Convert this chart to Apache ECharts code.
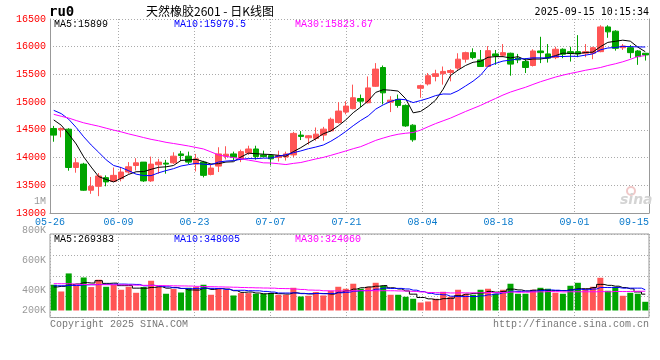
<!DOCTYPE html>
<html><head><meta charset="utf-8">
<script src="https://cdn.jsdelivr.net/npm/echarts@6/dist/echarts.min.js"></script>
<style>html,body{margin:0;padding:0;background:#fff}#c{width:660px;height:360px}</style>
</head><body><div id="c"></div>
<script>
const dates = ['05-26','05-27','05-28','05-29','05-30','06-03','06-04','06-05','06-06','06-09','06-10','06-11','06-12','06-13','06-16','06-17','06-18','06-19','06-20','06-23','06-24','06-25','06-26','06-27','06-30','07-01','07-02','07-03','07-04','07-07','07-08','07-09','07-10','07-11','07-14','07-15','07-16','07-17','07-18','07-21','07-22','07-23','07-24','07-25','07-28','07-29','07-30','07-31','08-01','08-04','08-05','08-06','08-07','08-08','08-11','08-12','08-13','08-14','08-15','08-18','08-19','08-20','08-21','08-22','08-25','08-26','08-27','08-28','08-29','09-01','09-02','09-03','09-04','09-05','09-08','09-09','09-10','09-11','09-12','09-15'];
const tickLabels = ['05-26','06-09','06-23','07-07','07-21','08-04','08-18','09-01','09-15'];
const volTickLabels = ['1M','800K','600K','400K','200K'];

const open = [14525,14500,14512,13821,13882,13411,13482,13638,13571,13620, 13739,13857,13918,13579,13870,13900,13905,14066,14025,13882, 13918,13696,13846,14025,14066,13977,14084,14155,14048,14036, 14000,14011,14048,14405,14357,14346,14405,14482,14632,14821, 14882,15066,14989,15286,15625,15000,15048,14941,14584,15250, 15329,15464,15512,15536,15614,15775,15893,15762,15643,15870, 15846,15882,15793,15732,15661,15923,15870,15804,15954,15911, 15911,15882,15882,15911,16357,16280,15982,15982,15923,15882];
const close = [14405,14525,13821,13905,13411,13482,13668,13561,13679,13739, 13834,13905,13579,13882,13918,13882,14025,14036,13918,13977, 13679,13811,14066,14061,14007,14107,14155,14018,14018,13977, 14036,14066,14436,14382,14393,14423,14513,14691,14839,14929, 15079,15018,15257,15596,15168,15036,14941,14571,14321,15298, 15477,15512,15554,15571,15775,15893,15804,15643,15929,15834, 15893,15686,15762,15625,15923,15893,15793,15954,15864,15882, 15870,15911,15982,16357,16268,15971,16012,15893,15821,15852];
const low = [14286,14365,13763,13727,13400,13346,13304,13482,13561,13571, 13709,13768,13561,13561,13709,13709,13882,13941,13882,13750, 13643,13679,13739,13966,13946,13918,14048,13964,14007,13857, 13929,13946,14007,14316,14232,14304,14304,14464,14614,14780, 14870,14911,14977,15275,14959,14821,14900,14554,14286,15079, 15300,15375,15316,15375,15584,15714,15775,15643,15632,15673, 15821,15477,15704,15525,15643,15704,15714,15775,15793,15732, 15811,15811,15775,15900,16161,15929,15941,15793,15673,15750];
const high = [14571,14545,14530,13989,13905,13650,13721,13679,13821,13829, 13918,13989,13918,14018,13977,13959,14096,14120,14107,14066, 13941,13870,14186,14204,14107,14143,14214,14214,14125,14061, 14125,14107,14464,14477,14405,14543,14554,14721,15000,15018, 15316,15137,15464,15704,15661,15107,15137,14959,14602,15316, 15525,15584,15643,15596,15882,15911,15971,15941,16012,15941, 16048,15893,15870,15793,15954,16179,16048,16000,15971,16000, 16209,16048,16000,16387,16387,16298,16048,16030,15941,15882];

const ma5 = [14679,14584,14423,14245,14013,13829,13657,13605,13560,13626, 13696,13744,13747,13788,13824,13833,13857,13949,13956,13968, 13927,13884,13890,13919,13925,14010,14079,14070,14061,14055, 14041,14023,14107,14179,14263,14340,14429,14480,14572,14679, 14810,14911,15024,15176,15224,15215,15200,15062,14807,14833, 14922,15036,15232,15482,15578,15661,15719,15737,15809,15821, 15821,15797,15821,15760,15778,15778,15799,15838,15885,15877, 15873,15896,15902,16000,16078,16098,16118,16100,15993,15910];
const ma10 = [14852,14793,14691,14543,14375,14227,14096,13959,13857,13820, 13763,13701,13676,13674,13725,13765,13800,13848,13872,13896, 13880,13871,13919,13937,13946,13969,13982,13980,13990,13990, 14026,14051,14088,14120,14159,14190,14226,14294,14376,14471, 14575,14670,14752,14874,14951,15013,15055,15043,14992,15029, 15068,15118,15147,15145,15206,15291,15378,15485,15646,15699, 15741,15758,15779,15784,15799,15799,15798,15829,15823,15828, 15825,15848,15870,15943,15977,15985,16007,16001,15997,15994];
const ma30 = [14780,14745,14713,14668,14627,14596,14566,14530,14495,14464, 14427,14395,14361,14329,14304,14275,14254,14232,14209,14182, 14155,14102,14048,14021,14000,13977,13954,13932,13905,13902, 13889,13874,13895,13911,13943,13975,14003,14040,14079,14119, 14160,14197,14253,14310,14352,14391,14421,14439,14452,14496, 14556,14613,14663,14713,14772,14831,14886,14941,15004,15066, 15128,15182,15226,15268,15319,15368,15410,15452,15487,15518, 15545,15575,15599,15624,15661,15692,15728,15772,15822,15840];

// volumes in thousands of lots
const volumeK = [432,319,622,415,554,393,516,398,432,348, 398,297,393,499,403,281,360,302,381,393, 432,264,365,348,252,292,292,281,281,292, 264,264,381,235,247,309,252,331,398,365, 449,365,398,465,415,264,264,230,197,134, 151,197,314,230,348,281,264,348,365,281, 348,449,281,281,348,381,365,297,281,415, 465,365,398,549,331,398,247,297,281,146];
const vma5K = [395,405,430,445,468,461,500,455,459,417, 418,375,374,387,398,375,387,369,345,343, 374,354,367,360,332,304,310,293,280,288, 282,276,296,287,278,287,285,275,307,331, 359,382,395,408,418,381,361,328,274,218, 195,182,199,205,248,274,287,294,321,308, 321,358,345,328,341,348,331,334,334,348, 365,365,385,438,422,408,385,364,311,274];
const vma10K = [415,415,420,420,430,432,436,440,442,443, 440,437,414,423,408,397,381,371,366,371, 374,371,368,353,338,339,332,330,320,310, 293,293,295,283,283,285,281,286,297,305, 323,333,335,358,375,370,371,361,341,318, 288,272,263,240,233,235,235,246,263,278, 298,323,320,325,325,335,345,340,331,345, 356,348,360,386,385,386,375,375,375,348];
const vma30K = [450,449,448,440,436,434,433,432,431,430, 428,425,422,420,418,416,414,412,410,405, 402,399,396,393,390,386,383,380,377,375, 369,367,359,353,343,340,331,329,328,328, 330,332,333,331,332,331,328,326,320,311, 302,299,298,294,297,296,296,298,301,300, 303,309,306,307,311,313,317,316,312,314, 314,314,314,317,314,319,318,320,323,323];

const priceMaText = ['MA5:15899','MA10:15979.5','MA30:15823.67'];
const volMaText = ['MA5:269383','MA10:348005','MA30:324060'];

const RED = '#ff5555', GREEN = '#00a400', GRID = '#aaaaaa', BORDER = '#999999';
const MONO = '"Liberation Mono", "DejaVu Sans Mono", monospace';

// Sina spaces its date grid a little wider (7.6px) than the candle slots
const dateGridSpan = 78.8;
const tickValues = tickLabels.map(l => Math.min(dates.indexOf(l), dateGridSpan));

const chart = echarts.init(document.getElementById('c'), null, {renderer: 'canvas'});

const gridLineStyle = {lineStyle: {color: GRID, type: [1, 2], width: 1}};

const option = {
  animation: false,
  grid: [
    {left: 50, right: 11, top: 19, height: 194},
    {left: 50, right: 11, top: 234, height: 83.5, show: true, borderColor: BORDER, borderWidth: 1, backgroundColor: 'transparent'}
  ],
  xAxis: [
    {type: 'category', gridIndex: 0, data: dates, boundaryGap: true,
     axisLine: {show: true, lineStyle: {color: BORDER, width: 1}}, axisTick: {show: false},
     axisLabel: {show: false}, splitLine: {show: false}},
    {type: 'value', gridIndex: 0, min: 0, max: dateGridSpan, position: 'bottom',
     axisLine: {show: false}, axisTick: {show: false, customValues: tickValues},
     axisLabel: {show: true, customValues: tickValues, color: '#0a7acc', fontFamily: MONO, fontSize: 10, margin: 4,
       alignMaxLabel: 'right',
       formatter: v => { const k = tickValues.indexOf(v); return k >= 0 ? tickLabels[k] : ''; }},
     splitLine: Object.assign({show: true}, gridLineStyle)},
    {type: 'category', gridIndex: 1, data: dates, boundaryGap: true,
     axisLine: {show: false}, axisTick: {show: false}, axisLabel: {show: false}, splitLine: {show: false}},
    {type: 'value', gridIndex: 1, min: 0, max: dateGridSpan,
     axisLine: {show: false}, axisTick: {show: false, customValues: tickValues}, axisLabel: {show: false},
     splitLine: Object.assign({show: true}, gridLineStyle)}
  ],
  yAxis: [
    {type: 'value', gridIndex: 0, min: 13000, max: 16500, interval: 500, position: 'left',
     axisLine: {show: true, lineStyle: {color: BORDER}}, axisTick: {show: false},
     axisLabel: {color: '#ff0000', fontFamily: MONO, fontSize: 10, margin: 4, padding: [0, 0, 6, 0], formatter: v => String(v)},
     splitLine: Object.assign({show: true}, gridLineStyle)},
    {type: 'value', gridIndex: 0, min: 13000, max: 16500, position: 'right',
     axisLine: {show: true, lineStyle: {color: BORDER}}, axisTick: {show: false},
     axisLabel: {show: false}, splitLine: {show: false}},
    {type: 'value', gridIndex: 1, min: -117.6, max: 1283.5,
     axisLine: {show: false}, axisTick: {show: false}, axisLabel: {show: false}, splitLine: {show: false}},
    {type: 'value', gridIndex: 1, min: 0, max: 4, interval: 1,
     axisLine: {show: false}, axisTick: {show: false}, axisLabel: {show: false},
     splitLine: Object.assign({show: true}, gridLineStyle)}
  ],
  series: [
    {type: 'candlestick', xAxisIndex: 0, yAxisIndex: 0, barWidth: 6,
     data: dates.map((d, i) => [open[i], close[i], low[i], high[i]]),
     itemStyle: {color: RED, color0: GREEN, borderColor: RED, borderColor0: GREEN, borderWidth: 1}},
    {type: 'line', xAxisIndex: 0, yAxisIndex: 0, data: ma5, showSymbol: false, lineStyle: {color: '#000000', width: 1}, z: 3},
    {type: 'line', xAxisIndex: 0, yAxisIndex: 0, data: ma10, showSymbol: false, lineStyle: {color: '#0000ff', width: 1}, z: 3},
    {type: 'line', xAxisIndex: 0, yAxisIndex: 0, data: ma30, showSymbol: false, lineStyle: {color: '#ff00ff', width: 1}, z: 3},
    {type: 'bar', xAxisIndex: 2, yAxisIndex: 2, barWidth: 6,
     data: volumeK.map((v, i) => ({value: v, itemStyle: {color: close[i] >= open[i] ? RED : GREEN}}))},
    {type: 'line', xAxisIndex: 2, yAxisIndex: 2, data: vma5K, step: 'middle', showSymbol: false, lineStyle: {color: '#000000', width: 1}, z: 3},
    {type: 'line', xAxisIndex: 2, yAxisIndex: 2, data: vma10K, step: 'middle', showSymbol: false, lineStyle: {color: '#0000ff', width: 1}, z: 3},
    {type: 'line', xAxisIndex: 2, yAxisIndex: 2, data: vma30K, step: 'middle', showSymbol: false, lineStyle: {color: '#ff00ff', width: 1}, z: 3}
  ],
  graphic: []
};

const g = option.graphic;
const txt = (text, x, y, fill, font, align) => g.push({type: 'text', z: 10, style: {text, x, y, fill, font, align: align || 'left', verticalAlign: 'middle'}});
txt('ru0', 49, 12, '#000', 'bold 14px "DejaVu Sans Mono"');
txt('天然橡胶2601 - 日K线图', 146, 11, '#000', '12px "Noto Sans CJK SC"');
txt('2025-09-15 10:15:34', 649, 12, '#000', '10px "DejaVu Sans Mono"', 'right');
const maColors = ['#000000', '#0000ff', '#ff00ff'];
const maX = [54, 174, 295];
priceMaText.forEach((t, i) => txt(t, maX[i], 24, maColors[i], '10px ' + MONO));
volMaText.forEach((t, i) => txt(t, maX[i], 239, maColors[i], '10px ' + MONO));
const volLabelY = [201, 230, 260, 290.5, 310.5];
volTickLabels.forEach((t, i) => txt(t, 46, volLabelY[i], '#999999', '10px ' + MONO, 'right'));
txt('Copyright 2025 SINA.COM', 50, 324, '#777777', '10px ' + MONO);
txt('http://finance.sina.com.cn', 649, 324, '#777777', '10px ' + MONO, 'right');
g.push({type: 'circle', z: 1, shape: {cx: 631, cy: 191, r: 4}, style: {fill: 'none', stroke: '#f0c8c8', lineWidth: 2}});
txt('sina', 620, 200, '#d4d4d4', 'italic bold 14px "DejaVu Sans"');

chart.setOption(option);
</script>
</body></html>
